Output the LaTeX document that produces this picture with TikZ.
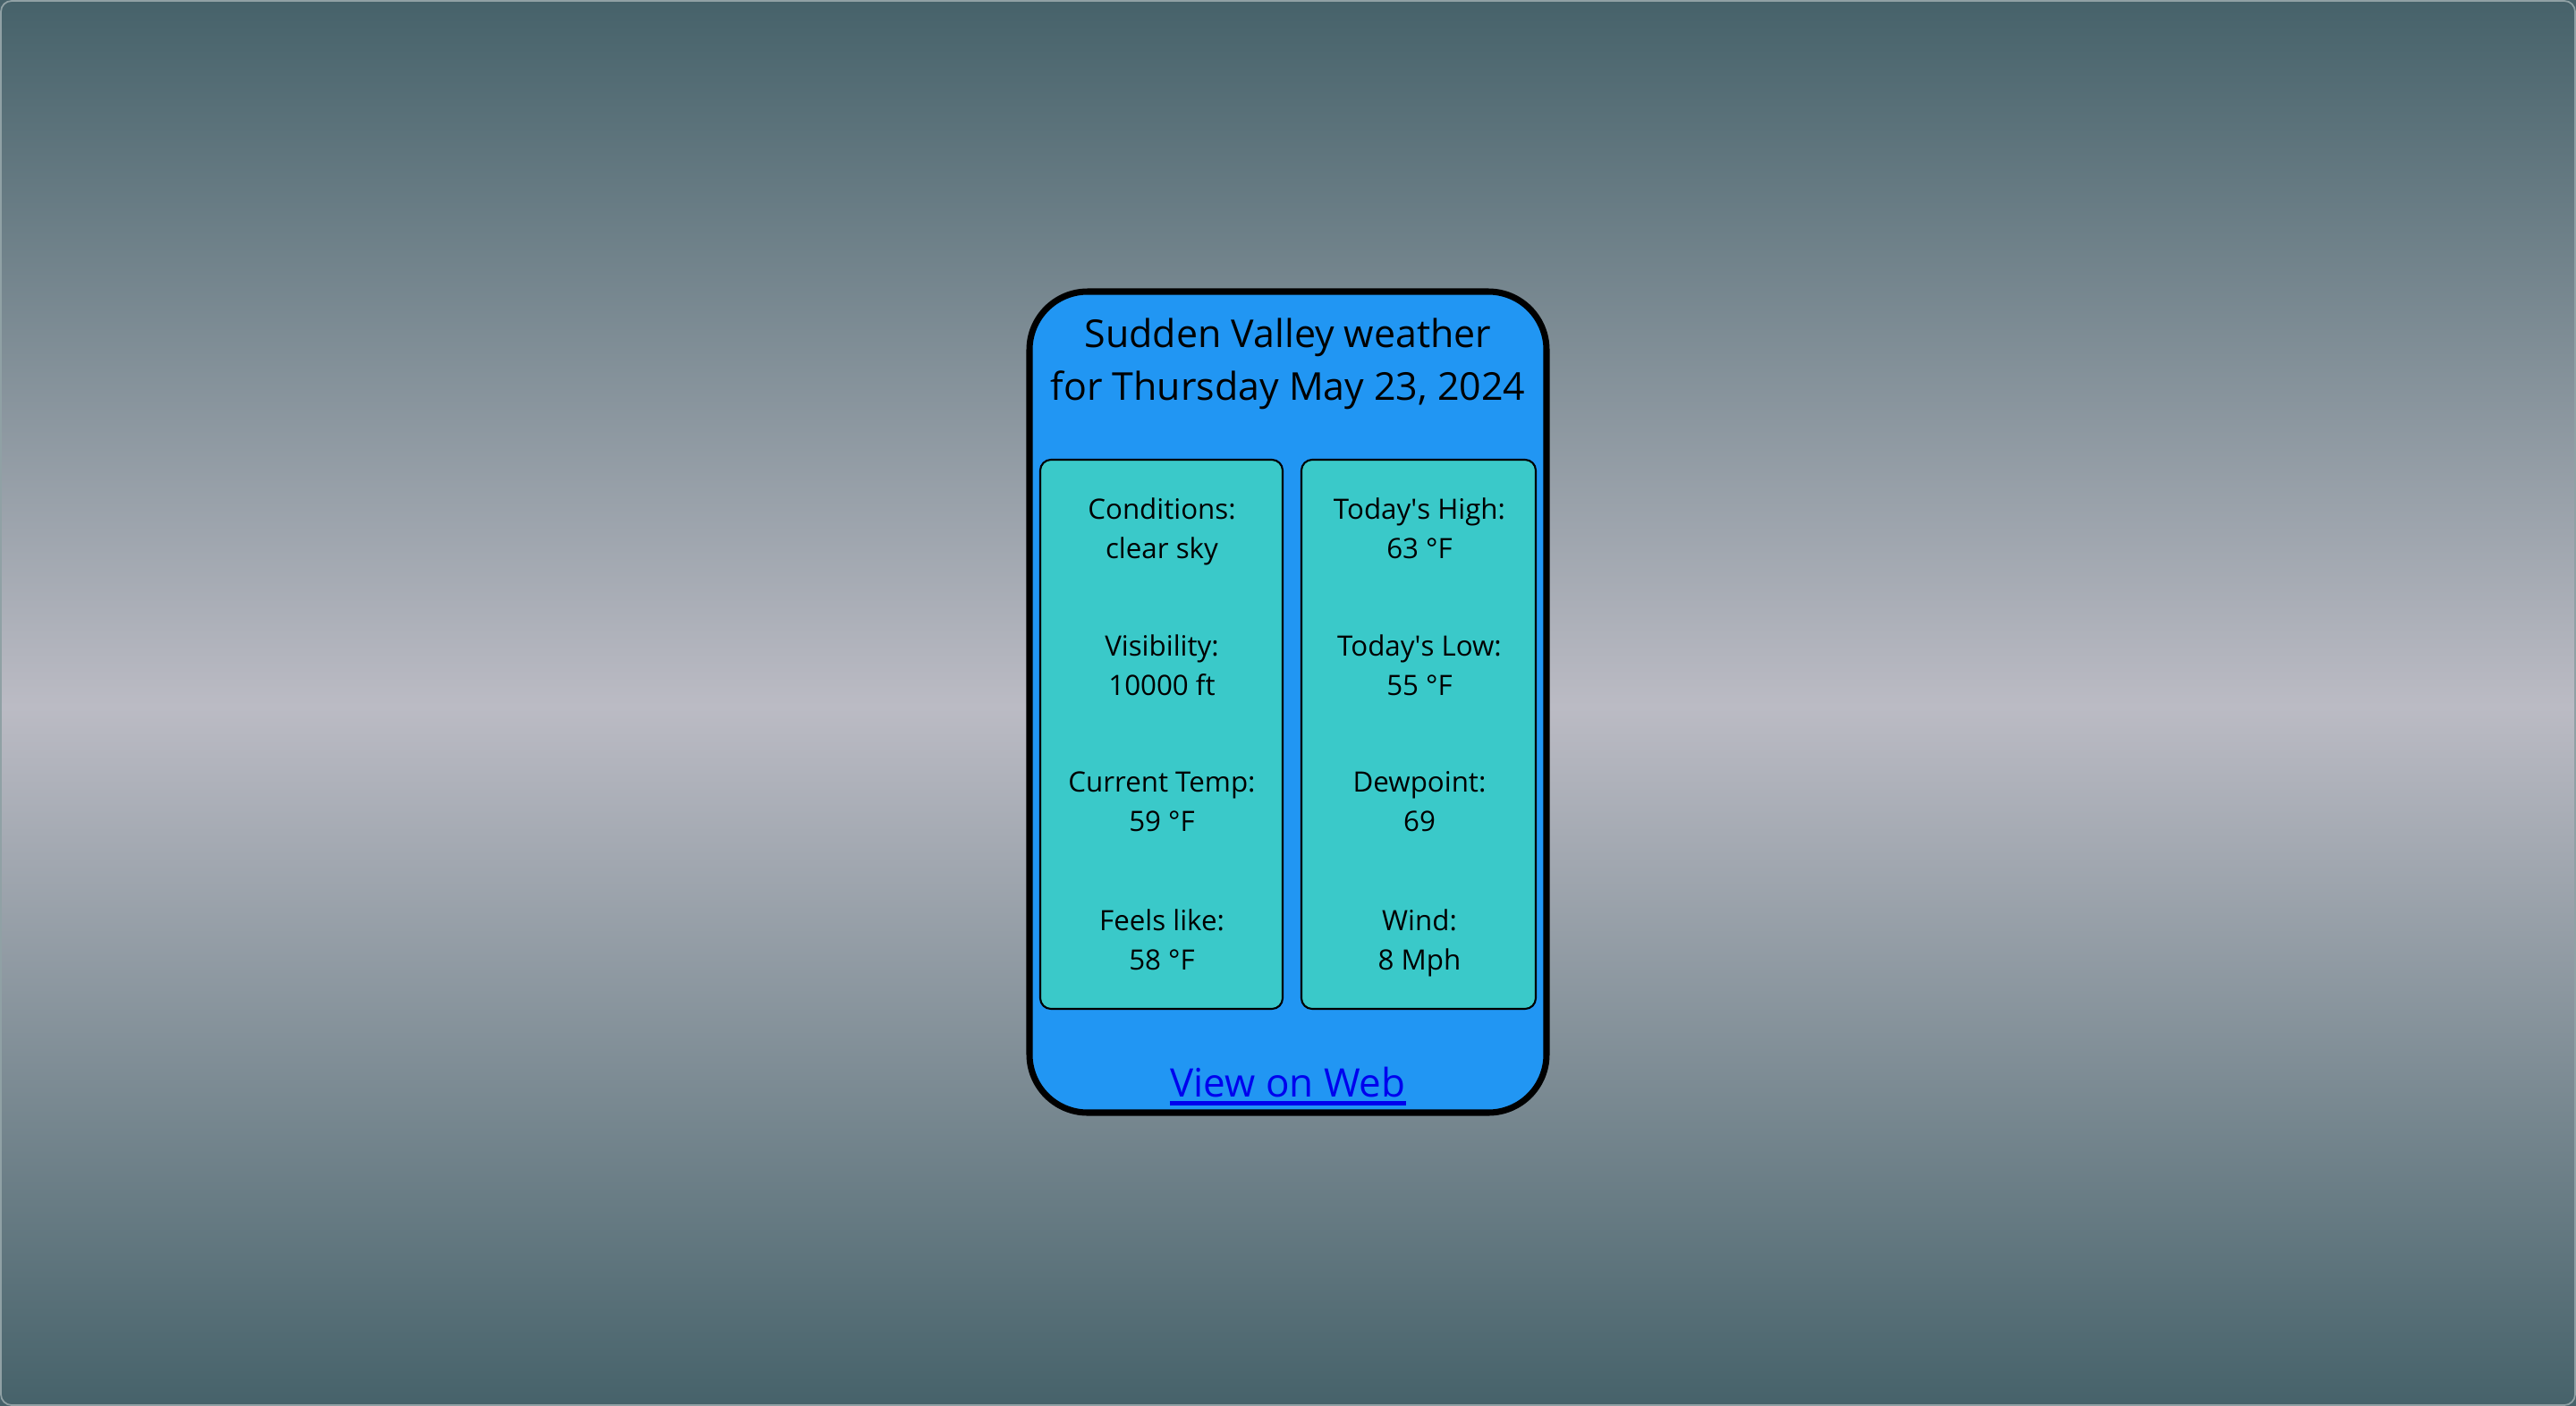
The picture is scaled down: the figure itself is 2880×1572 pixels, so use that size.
\documentclass[tikz,border=0pt]{standalone}
\usepackage{fontspec}
\setmainfont{Open Sans}
\definecolor{bgdark}{HTML}{46626A}
\definecolor{bglight}{HTML}{BBBBC4}
\definecolor{cardblue}{HTML}{2196F3}
\definecolor{panelteal}{HTML}{3AC9C9}
\definecolor{linkblue}{HTML}{0000EE}
\newcommand{\twoline}[2]{#1\strut\\#2\strut}
\tikzset{
  panel/.style={draw=black,fill=panelteal,line width=0.6pt,rounded corners=0.12cm},
  entry/.style={align=center,inner sep=0pt,font=\fontsize{8.9pt}{12.5pt}\selectfont},
}

\begin{document}
\begin{tikzpicture}[x=0.01cm,y=-0.01cm]
            \useasboundingbox (0,0) rectangle (2880,1572);
            % background
            \shade[top color=bgdark,bottom color=bglight] (0,0) rectangle (2880,790);
            \shade[top color=bglight,bottom color=bgdark] (0,790) rectangle (2880,1572);
            \draw[bgdark!60!white,line width=0.5pt,rounded corners=0.12cm] (1,1) rectangle (2879,1571);
            % card
            \draw[fill=cardblue,line width=2pt,rounded corners=0.65cm] (1151,326) rectangle (1729,1244);
            \node[align=center,inner sep=0pt,font=\fontsize{12.2pt}{16.8pt}\selectfont] (title) at (1440,407) {Sudden Valley weather\\for Thursday May 23, 2024};
            % panels
            \draw[panel] (1163,514) rectangle (1434,1128);
            \draw[panel] (1455,514) rectangle (1717,1128);
            \node[entry] (cond) at (1299,594) {\twoline{Conditions:}{clear sky}};
            \node[entry] (vis) at (1299,747) {\twoline{Visibility:}{10000 ft}};
            \node[entry] (temp) at (1299,899) {\twoline{Current Temp:}{59 °F}};
            \node[entry] (feels) at (1299,1054) {\twoline{Feels like:}{58 °F}};
            \node[entry] (high) at (1587,594) {\twoline{Today\textquotesingle s High:}{63 °F}};
            \node[entry] (low) at (1587,747) {\twoline{Today\textquotesingle s Low:}{55 °F}};
            \node[entry] (dew) at (1587,899) {\twoline{Dewpoint:}{69}};
            \node[entry] (wind) at (1587,1054) {\twoline{Wind:}{8 Mph}};
            % link
            \node[inner sep=0pt,text=linkblue,font=\fontsize{12.5pt}{15pt}\selectfont,anchor=base] (web) at (1440,1226) {View on Web};
            \draw[linkblue,line width=1.3pt] ([yshift=-2.2pt]web.base west) -- ([yshift=-2.2pt]web.base east);
        \end{tikzpicture}
\end{document}
